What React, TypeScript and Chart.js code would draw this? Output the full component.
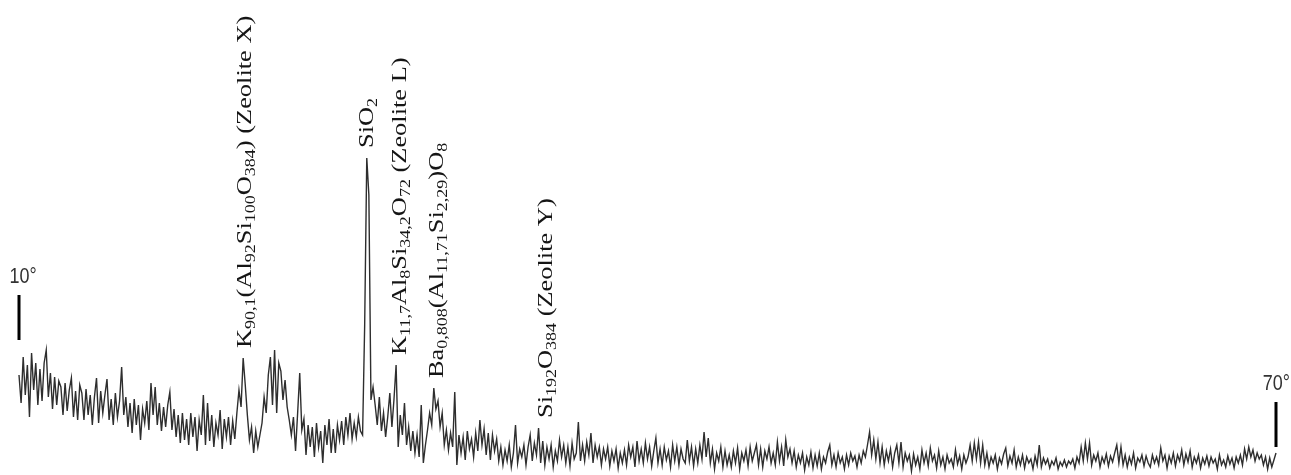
import React, { useEffect, useRef } from "react";
import { Chart, registerables } from "chart.js";

Chart.register(...registerables);

// XRD pattern, 2θ from 10° to 70° in 0.1° steps (arbitrary intensity units)
const START_DEG = 10;
const STEP_DEG = 0.1;
const intensity: number[] = [
  100, 72, 118, 80, 110, 58, 122, 85, 112, 70,
  106, 74, 112, 125, 78, 102, 66, 98, 70, 94,
  88, 60, 92, 64, 85, 97, 58, 84, 55, 90,
  82, 55, 86, 60, 80, 50, 78, 97, 52, 84,
  62, 80, 96, 55, 76, 50, 82, 58, 74, 108,
  60, 78, 48, 72, 42, 76, 50, 70, 35, 66,
  52, 74, 45, 92, 60, 88, 50, 72, 44, 68,
  48, 70, 83, 45, 66, 38, 60, 32, 62, 35,
  56, 30, 62, 38, 58, 24, 55, 40, 80, 30,
  72, 34, 60, 28, 52, 40, 65, 26, 56, 38,
  58, 30, 54, 36, 62, 85, 68, 117, 90, 60,
  35, 48, 22, 44, 28, 40, 52, 78, 62, 100,
  118, 70, 125, 62, 112, 104, 75, 95, 68, 55,
  40, 58, 24, 62, 102, 45, 56, 20, 50, 28,
  48, 18, 52, 28, 44, 12, 50, 30, 56, 22,
  46, 22, 50, 35, 54, 30, 58, 40, 62, 36,
  52, 38, 58, 44, 40, 150, 317, 280, 75, 88,
  70, 50, 78, 44, 62, 38, 58, 82, 48, 76,
  110, 28, 60, 40, 72, 30, 48, 24, 44, 22,
  40, 18, 70, 12, 30, 45, 62, 50, 87, 66,
  74, 48, 62, 30, 45, 25, 42, 28, 83, 10,
  40, 22, 38, 15, 44, 26, 36, 18, 42, 24,
  55, 30, 46, 20, 42, 15, 40, 24, 36, 14,
  28, 10, 25, 14, 30, 8, 22, 50, 12, 26,
  18, 30, 10, 28, 40, 14, 32, 20, 47, 12,
  34, 10, 28, 16, 30, 8, 24, 14, 35, 18,
  30, 12, 28, 9, 32, 16, 22, 53, 14, 30,
  14, 33, 20, 42, 12, 30, 18, 28, 10, 26,
  16, 28, 9, 24, 14, 26, 7, 22, 12, 25,
  10, 30, 18, 28, 8, 34, 14, 26, 12, 32,
  16, 28, 9, 24, 37, 12, 26, 10, 28, 15,
  24, 8, 30, 14, 28, 10, 26, 16, 12, 35,
  14, 28, 9, 26, 12, 30, 16, 43, 18, 37,
  12, 26, 6, 22, 14, 28, 8, 24, 10, 20,
  8, 24, 12, 27, 6, 22, 14, 25, 9, 28,
  14, 22, 30, 10, 26, 8, 24, 16, 28, 12,
  22, 10, 33, 14, 28, 9, 35, 18, 26, 12,
  24, 8, 20, 12, 22, 5, 18, 10, 23, 7,
  20, 9, 22, 6, 18, 12, 23, 30, 10, 20,
  8, 22, 12, 18, 6, 20, 10, 22, 14, 19,
  8, 20, 12, 24, 18, 30, 43, 20, 35, 16,
  33, 12, 28, 10, 24, 14, 26, 8, 22, 30,
  12, 33, 8, 22, 14, 20, 4, 21, 10, 18,
  6, 25, 12, 22, 9, 27, 14, 20, 7, 24,
  10, 18, 6, 20, 12, 16, 8, 25, 11, 19,
  6, 20, 12, 18, 30, 14, 32, 16, 33, 12,
  30, 10, 22, 8, 18, 12, 20, 6, 17, 11,
  21, 27, 9, 19, 12, 25, 8, 18, 10, 20,
  7, 18, 12, 16, 6, 19, 10, 30, 8, 17,
  11, 16, 7, 14, 10, 17, 6, 13, 9, 15,
  8, 14, 11, 16, 7, 18, 12, 28, 14, 32,
  16, 32, 10, 20, 14, 22, 8, 18, 12, 21,
  9, 19, 13, 22, 30, 12, 28, 10, 20, 8,
  18, 11, 22, 7, 17, 13, 20, 9, 19, 12,
  8, 20, 12, 18, 10, 27, 14, 20, 7, 19,
  12, 22, 9, 20, 14, 25, 10, 21, 13, 24,
  8, 18, 12, 20, 7, 17, 11, 19, 9, 18,
  12, 16, 6, 20, 10, 15, 8, 19, 11, 17,
  7, 18, 12, 20, 10, 26, 16, 28, 18, 25,
  14, 22, 16, 20, 10, 18, 6, 17, 8, 15,
  22,
];

const twoTheta: number[] = intensity.map((_, i) => +(START_DEG + i * STEP_DEG).toFixed(2));

// Phase labels: 2θ of the reflection and rich text (_{..} subscript)
const peakPositions: number[] = [20.7, 26.5, 28.1, 29.85, 35.05];
const peakTexts: string[] = [
  "K_{90,1}(Al_{92}Si_{100}O_{384}) (Zeolite X)",
  "SiO_{2}",
  "K_{11,7}Al_{8}Si_{34,2}O_{72} (Zeolite L)",
  "Ba_{0,808}(Al_{11,71}Si_{2,29})O_{8}",
  "Si_{192}O_{384} (Zeolite Y)",
];

// Range markers (2θ), with the intensity span of each bar
const markerDeg: number[] = [10, 70];
const markerText: string[] = ["10°", "70°"];
const markerLow: number[] = [135, 28];
const markerHigh: number[] = [180, 73];

const W = 1291;
const H = 475;

type Seg = { t: string; sub: boolean };
function parseRich(s: string): Seg[] {
  const out: Seg[] = [];
  const re = /_\{([^}]*)\}|([^_]+)/g;
  let m: RegExpExecArray | null;
  while ((m = re.exec(s))) {
    if (m[1] !== undefined) out.push({ t: m[1], sub: true });
    else out.push({ t: m[2], sub: false });
  }
  return out;
}

const SERIF = "'Liberation Serif', 'Times New Roman', serif";
const STRETCH = 1.2;

const annotPlugin = {
  id: "xrdAnnot",
  afterDatasetsDraw(chart: any) {
    const ctx: CanvasRenderingContext2D = chart.ctx;
    const xs = chart.scales.x;
    const ys = chart.scales.y;
    peakPositions.forEach((pos, k) => {
      let mx = -Infinity;
      twoTheta.forEach((t, i) => {
        if (Math.abs(t - pos) <= 0.301 && intensity[i] > mx) mx = intensity[i];
      });
      const px = xs.getPixelForValue(pos);
      const bottom = ys.getPixelForValue(mx) - 10;
      ctx.save();
      ctx.fillStyle = "#151515";
      ctx.textBaseline = "alphabetic";
      ctx.translate(px + 8, bottom);
      ctx.rotate(-Math.PI / 2);
      ctx.scale(STRETCH, 1);
      let u = 0;
      for (const seg of parseRich(peakTexts[k])) {
        ctx.font = seg.sub ? `15px ${SERIF}` : `22px ${SERIF}`;
        ctx.fillText(seg.t, u, seg.sub ? 4 : 0);
        u += ctx.measureText(seg.t).width;
      }
      ctx.restore();
    });
    markerDeg.forEach((d, k) => {
      const px = xs.getPixelForValue(d);
      const yLow = ys.getPixelForValue(markerLow[k]);
      const yHigh = ys.getPixelForValue(markerHigh[k]);
      ctx.save();
      ctx.fillStyle = "#000";
      ctx.fillRect(Math.round(px) - 1.5, yHigh, 3, yLow - yHigh);
      ctx.fillStyle = "#333";
      ctx.font = `18px 'Liberation Sans', Arial, sans-serif`;
      ctx.textAlign = "center";
      ctx.textBaseline = "alphabetic";
      const half = ctx.measureText(markerText[k]).width / 2;
      const cx = Math.min(px + 4, chart.width - half - 1);
      ctx.translate(cx, yHigh - 12);
      ctx.scale(1, 1.2);
      ctx.fillText(markerText[k], 0, 0);
      ctx.restore();
    });
  },
};

export default function App() {
  const ref = useRef<HTMLCanvasElement | null>(null);
  useEffect(() => {
    if (!ref.current) return;
    const pxPerDeg = (1276 - 19) / 60;
    const xMin = 10 - 19 / pxPerDeg;
    const xMax = xMin + W / pxPerDeg;
    const chart = new Chart(ref.current, {
      type: "line",
      data: {
        datasets: [
          {
            data: twoTheta.map((t, i) => ({ x: t, y: intensity[i] })),
            borderColor: "#2e2e2e",
            borderWidth: 1.4,
            pointRadius: 0,
            tension: 0,
            fill: false,
          },
        ],
      },
      options: {
        animation: false,
        responsive: false,
        devicePixelRatio: 1,
        layout: { padding: 0 },
        plugins: { legend: { display: false }, tooltip: { enabled: false } },
        scales: {
          x: { type: "linear", min: xMin, max: xMax, display: false },
          y: { min: 0, max: H, display: false },
        },
      },
      plugins: [annotPlugin],
    } as any);
    return () => chart.destroy();
  }, []);
  return (
    <div style={{ position: "fixed", left: 0, top: 0, width: W, height: H, background: "#fff" }}>
      <canvas ref={ref} width={W} height={H} style={{ display: "block" }} />
    </div>
  );
}
